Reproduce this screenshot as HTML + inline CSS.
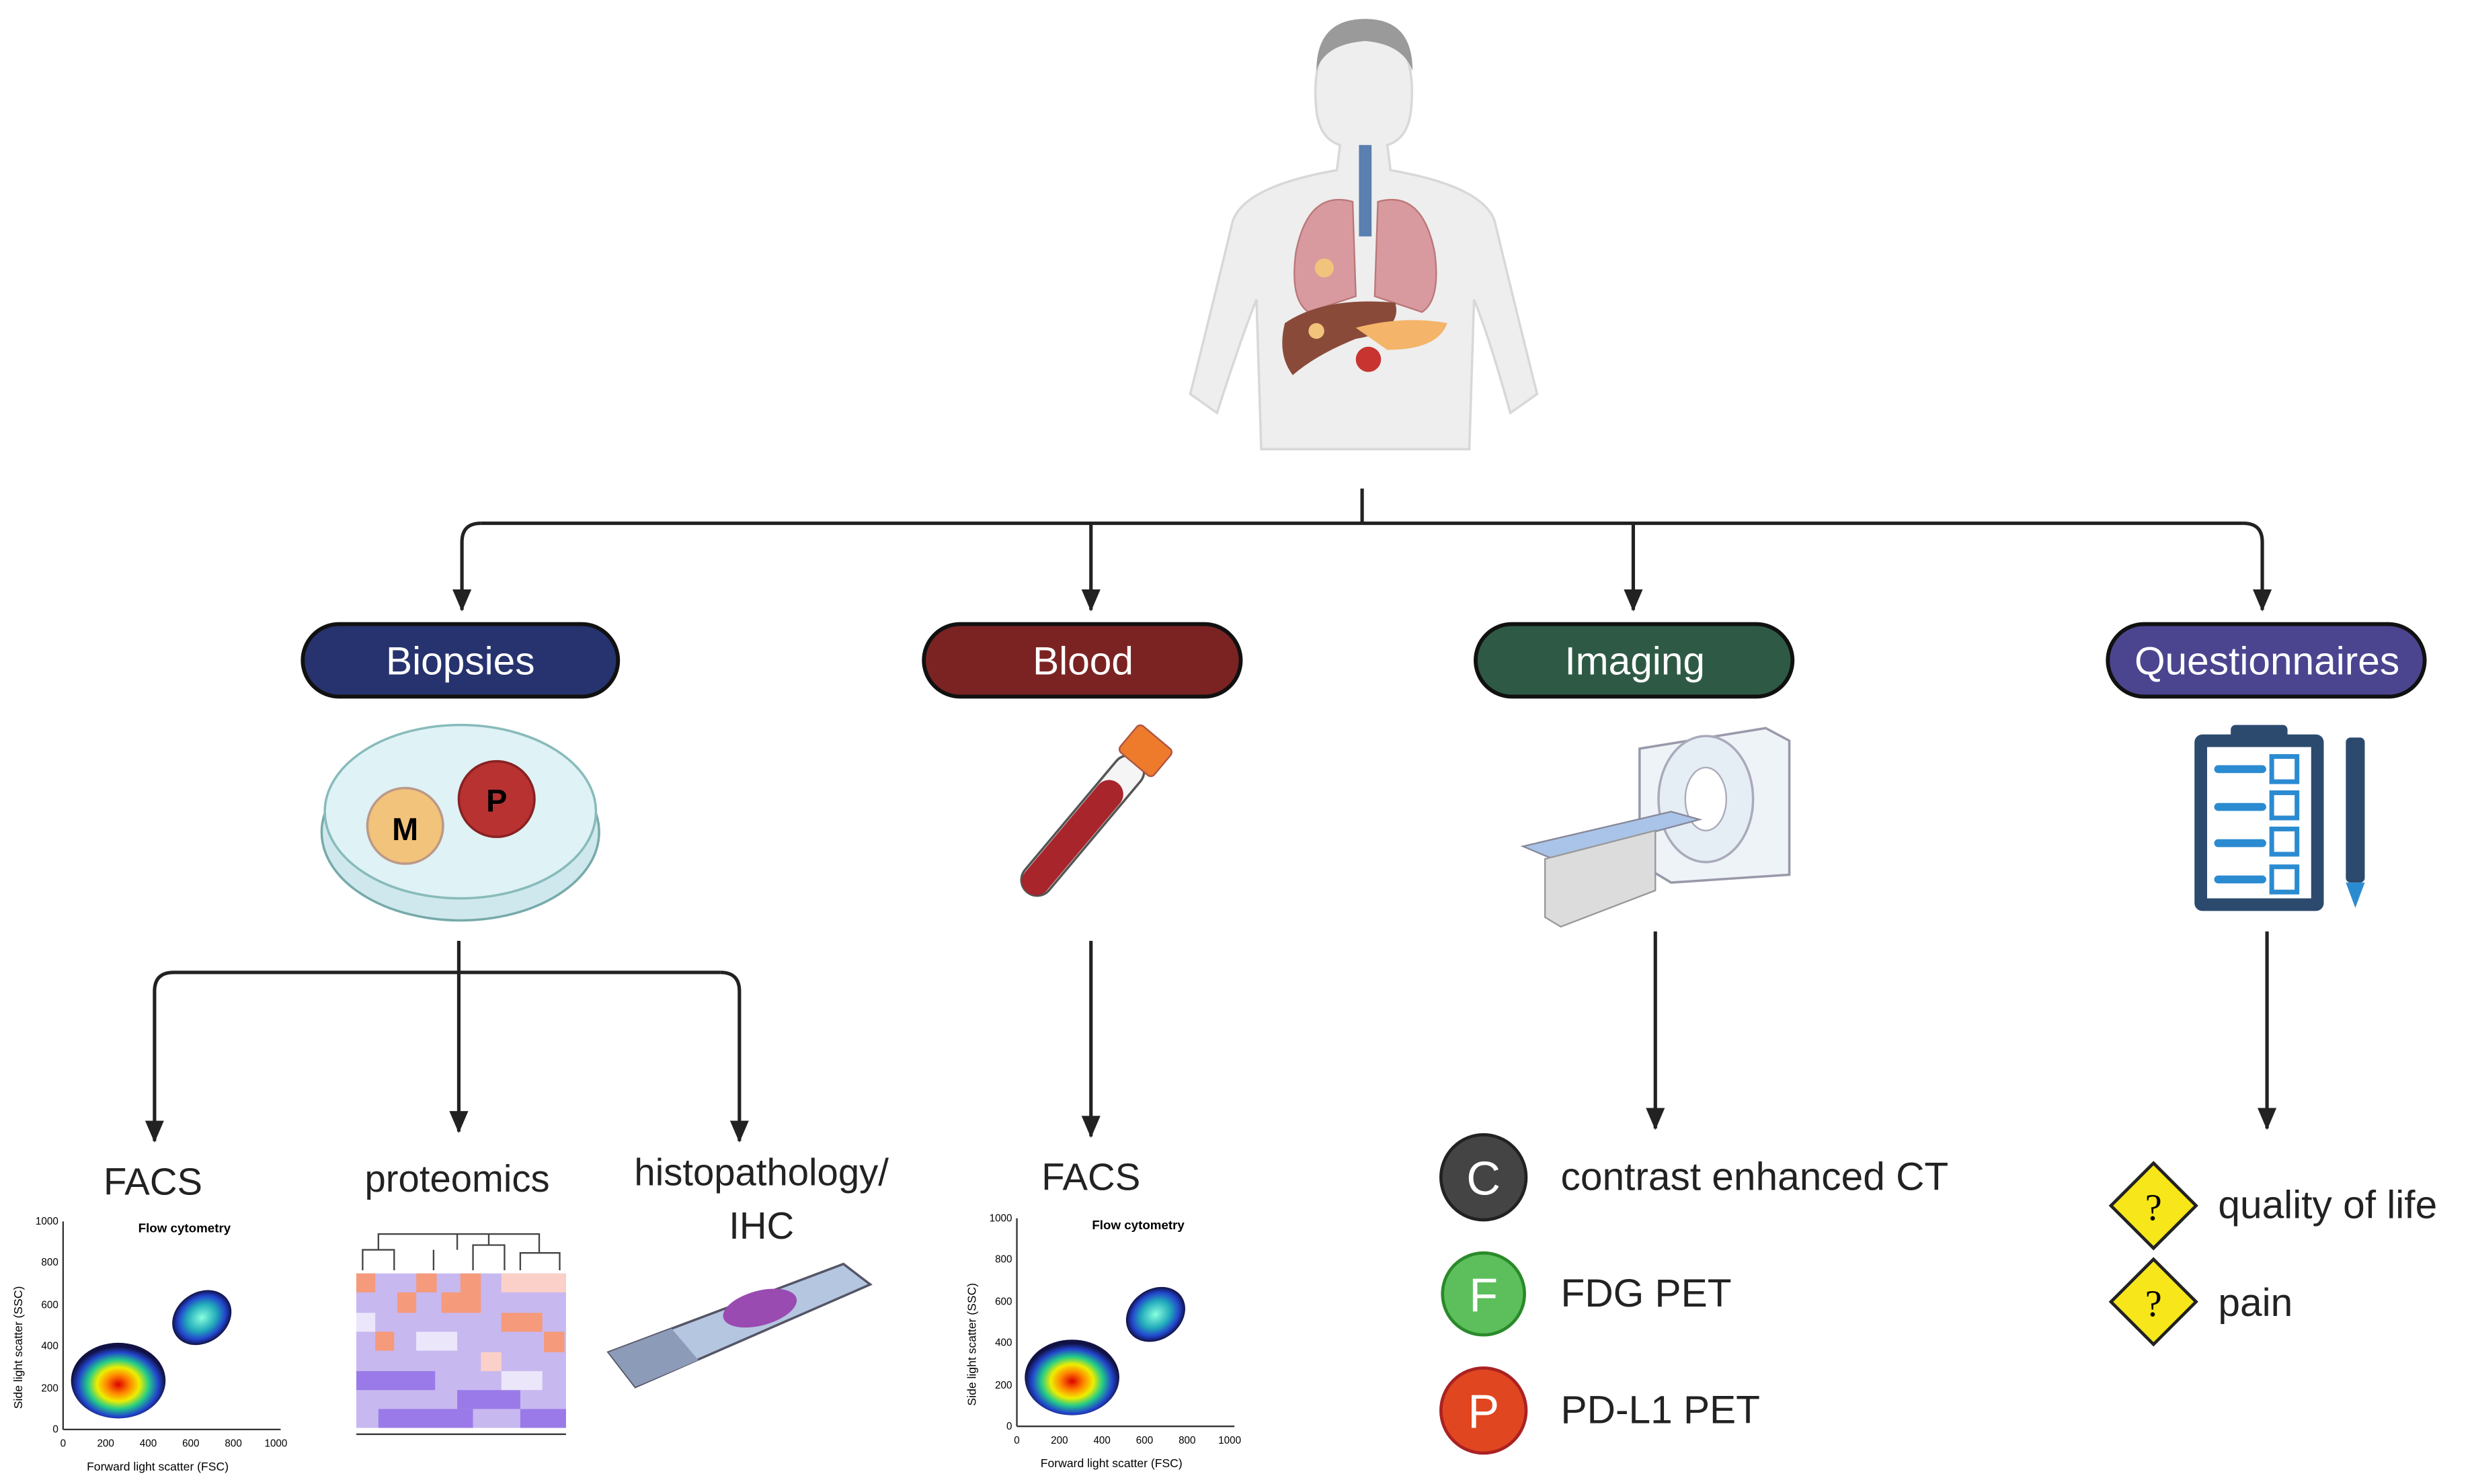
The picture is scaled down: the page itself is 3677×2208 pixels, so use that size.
<!DOCTYPE html>
<html><head><meta charset="utf-8"><style>
html,body{margin:0;padding:0;background:#fff;}
svg{display:block;}
text{font-family:"Liberation Sans",sans-serif;}
</style></head><body>
<svg width="3677" height="2208" viewBox="0 0 1568 941.6" xmlns="http://www.w3.org/2000/svg">
<defs>
<marker id="ah" markerWidth="14" markerHeight="12" refX="13" refY="6" orient="auto" markerUnits="userSpaceOnUse">
<path d="M0,0 L14,6 L0,12 Z" fill="#222"/></marker>
<radialGradient id="hot" cx="50%" cy="55%" r="50%">
<stop offset="0" stop-color="#d00"/><stop offset="0.25" stop-color="#f80"/><stop offset="0.45" stop-color="#ee0"/><stop offset="0.65" stop-color="#2c8"/><stop offset="0.85" stop-color="#24c"/><stop offset="1" stop-color="#114"/></radialGradient>
<radialGradient id="cool" cx="50%" cy="50%" r="50%">
<stop offset="0" stop-color="#8fd"/><stop offset="0.5" stop-color="#2ab"/><stop offset="0.8" stop-color="#24c"/><stop offset="1" stop-color="#114"/></radialGradient>
</defs>

<!-- human figure -->
<g>
<path d="M835,70 Q830,20 865,15 Q900,20 895,70 Q893,88 880,92 L882,108 Q940,118 948,140 Q960,190 975,250 L958,262 Q945,215 935,190 L932,285 L800,285 L797,190 Q787,215 772,262 L755,250 Q770,190 782,140 Q790,118 848,108 L850,92 Q837,88 835,70 Z" fill="#eeeeee" stroke="#d8d8d8" stroke-width="1.5"/>
<path d="M835,45 Q835,12 866,12 Q896,12 896,45 Q890,28 866,26 Q840,28 835,45 Z" fill="#9a9a9a"/>
<path d="M862,92 L870,92 L870,150 L862,150 Z" fill="#5a7fb0"/>
<path d="M858,128 Q830,120 822,160 Q818,190 830,198 L860,188 Z" fill="#d89a9f" stroke="#b77" stroke-width="1"/>
<path d="M874,128 Q902,120 910,160 Q914,190 902,198 L872,188 Z" fill="#d89a9f" stroke="#b77" stroke-width="1"/>
<circle cx="840" cy="170" r="6" fill="#f2c37a"/>
<path d="M815,205 Q840,188 885,192 Q890,210 860,215 Q835,225 820,238 Q810,225 815,205 Z" fill="#8a4a3a"/>
<path d="M860,208 Q890,200 918,205 Q912,222 880,222 Z" fill="#f4b469"/>
<circle cx="868" cy="228" r="8" fill="#c8342f"/>
<circle cx="835" cy="210" r="5" fill="#f2c37a"/>
</g>

<!-- connectors -->
<g stroke="#222" stroke-width="2.2" fill="none">
<line x1="864" y1="310" x2="864" y2="332"/>
<path d="M1423,332 Q1435,332 1435,344 L1435,387" marker-end="url(#ah)"/>
<path d="M305,332 L1423,332"/>
<path d="M305,332 Q293,332 293,344 L293,387" marker-end="url(#ah)"/>
<line x1="692" y1="332" x2="692" y2="387" marker-end="url(#ah)"/>
<line x1="1036" y1="332" x2="1036" y2="387" marker-end="url(#ah)"/>
<line x1="291" y1="597" x2="291" y2="718" marker-end="url(#ah)"/>
<path d="M110,617 L457,617"/>
<path d="M110,617 Q98,617 98,629 L98,724" marker-end="url(#ah)"/>
<path d="M457,617 Q469,617 469,629 L469,724" marker-end="url(#ah)"/>
<line x1="692" y1="597" x2="692" y2="721" marker-end="url(#ah)"/>
<line x1="1050" y1="591" x2="1050" y2="716" marker-end="url(#ah)"/>
<line x1="1438" y1="591" x2="1438" y2="716" marker-end="url(#ah)"/>
</g>

<!-- pills -->
<g stroke="#111" stroke-width="2.5">
<rect x="192" y="396" width="200" height="46" rx="23" fill="#27336e"/>
<rect x="586" y="396" width="201" height="46" rx="23" fill="#7b2323"/>
<rect x="936" y="396" width="201" height="46" rx="23" fill="#2e5a45"/>
<rect x="1337" y="396" width="201" height="46" rx="23" fill="#4b4590"/>
</g>
<g fill="#fff" font-size="25" text-anchor="middle">
<text x="292" y="428">Biopsies</text>
<text x="687" y="428">Blood</text>
<text x="1037" y="428">Imaging</text>
<text x="1438" y="428">Questionnaires</text>
</g>

<!-- petri dish -->
<ellipse cx="292" cy="528" rx="88" ry="56" fill="#cfe8ee" stroke="#7aa" stroke-width="1.5"/>
<ellipse cx="292" cy="515" rx="86" ry="55" fill="#dff2f5" stroke="#8bb" stroke-width="1.5"/>
<circle cx="257" cy="524" r="24" fill="#f2c37a" stroke="#b98" stroke-width="1.5"/>
<circle cx="315" cy="507" r="24" fill="#b83232" stroke="#822" stroke-width="1.5"/>
<text x="257" y="533" font-size="20" font-weight="bold" text-anchor="middle">M</text>
<text x="315" y="515" font-size="20" font-weight="bold" text-anchor="middle">P</text>

<!-- blood tube -->
<g transform="rotate(40 690 520)">
<rect x="680" y="470" width="20" height="110" rx="10" fill="#f5f5f5" stroke="#555" stroke-width="1.5"/>
<rect x="681" y="490" width="18" height="90" rx="9" fill="#a8252c"/>
<rect x="676" y="452" width="28" height="22" rx="3" fill="#ee7a2b" stroke="#a54" stroke-width="1"/>
</g>

<!-- CT scanner -->
<path d="M1040,475 L1120,462 L1135,470 L1135,555 L1060,560 L1040,548 Z" fill="#eef3f8" stroke="#99a" stroke-width="1.5"/>
<ellipse cx="1082" cy="507" rx="30" ry="40" fill="#e6eef5" stroke="#aab" stroke-width="1.5"/>
<ellipse cx="1082" cy="507" rx="13" ry="20" fill="#fff" stroke="#aab"/>
<path d="M966,537 L1060,515 L1078,520 L985,545 Z" fill="#a9c4e8" stroke="#889" stroke-width="1"/>
<path d="M980,545 L1050,527 L1050,565 L990,588 L980,582 Z" fill="#dcdcdc" stroke="#999" stroke-width="1"/>

<!-- clipboard -->
<rect x="1392" y="466" width="82" height="112" rx="5" fill="#2c4a6e"/>
<rect x="1400" y="474" width="66" height="96" fill="#fff"/>
<rect x="1415" y="460" width="36" height="12" rx="3" fill="#2c4a6e"/>
<g stroke="#2b8bd1" stroke-width="5" stroke-linecap="round">
<line x1="1407" y1="488" x2="1435" y2="488"/><line x1="1407" y1="512" x2="1435" y2="512"/>
<line x1="1407" y1="535" x2="1435" y2="535"/><line x1="1407" y1="558" x2="1435" y2="558"/></g>
<g fill="none" stroke="#2b8bd1" stroke-width="3">
<rect x="1441" y="480" width="16" height="16"/><rect x="1441" y="503" width="16" height="16"/>
<rect x="1441" y="526" width="16" height="16"/><rect x="1441" y="550" width="16" height="16"/></g>
<rect x="1488" y="468" width="12" height="92" rx="3" fill="#2c4a6e"/>
<path d="M1488,560 L1500,560 L1494,576 Z" fill="#2b8bd1"/>

<!-- labels -->
<g font-size="24" fill="#222" text-anchor="middle">
<text x="97" y="758">FACS</text>
<text x="290" y="756">proteomics</text>
<text x="483" y="752">histopathology/</text>
<text x="483" y="786">IHC</text>
<text x="692" y="755">FACS</text>
</g>

<!-- flow plots -->
<g id="fp">
<g stroke="#333" stroke-width="1" fill="none"><line x1="40" y1="775" x2="40" y2="907"/><line x1="40" y1="907" x2="178" y2="907"/></g>
<text x="117" y="782" font-size="8" font-weight="bold" text-anchor="middle">Flow cytometry</text>
<ellipse cx="75" cy="876" rx="30" ry="24" fill="url(#hot)"/>
<ellipse cx="128" cy="836" rx="20" ry="16" fill="url(#cool)" transform="rotate(-35 128 836)"/>
<text x="100" y="933" font-size="7.5" text-anchor="middle">Forward light scatter (FSC)</text>
<text x="14" y="855" font-size="7.5" text-anchor="middle" transform="rotate(-90 14 855)">Side light scatter (SSC)</text>
<g font-size="6.5" text-anchor="end"><text x="37" y="777">1000</text><text x="37" y="803">800</text><text x="37" y="830">600</text><text x="37" y="856">400</text><text x="37" y="883">200</text><text x="37" y="909">0</text></g>
<g font-size="6.5" text-anchor="middle"><text x="40" y="918">0</text><text x="67" y="918">200</text><text x="94" y="918">400</text><text x="121" y="918">600</text><text x="148" y="918">800</text><text x="175" y="918">1000</text></g>
</g>
<use href="#fp" transform="translate(605 -2)"/>

<!-- heatmap -->
<g>
<path d="M230,806 L230,793 L250,793 L250,806 M240,793 L240,783 L290,783 L290,793 M275,793 L275,806 M300,806 L300,790 L320,790 L320,806 M310,790 L310,783 M330,806 L330,795 L355,795 L355,806 M342,795 L342,783 L290,783" stroke="#444" fill="none" stroke-width="1"/>
<rect x="226" y="808" width="133" height="98" fill="#c8b8f0"/>
<g fill="#f59a7a">
<rect x="226" y="808" width="12" height="12"/><rect x="264" y="808" width="13" height="12"/><rect x="292" y="808" width="13" height="12"/><rect x="318" y="808" width="41" height="12" fill="#fbd0c8"/>
<rect x="252" y="820" width="12" height="13"/><rect x="280" y="820" width="25" height="13"/><rect x="318" y="833" width="26" height="12"/><rect x="345" y="845" width="13" height="13"/><rect x="238" y="845" width="12" height="12"/><rect x="305" y="858" width="13" height="12" fill="#fbd0c8"/>
</g>
<g fill="#9a7ae8"><rect x="226" y="870" width="50" height="12"/><rect x="290" y="882" width="40" height="12"/><rect x="240" y="894" width="60" height="12"/><rect x="330" y="894" width="29" height="12"/></g>
<g fill="#ece6fb"><rect x="264" y="845" width="26" height="12"/><rect x="318" y="870" width="26" height="12"/><rect x="226" y="833" width="12" height="12"/></g>
<line x1="226" y1="910" x2="359" y2="910" stroke="#333"/>
</g>

<!-- slide -->
<path d="M386,858 L535,802 L552,815 L403,880 Z" fill="#b5c6e0" stroke="#556" stroke-width="1.5"/>
<path d="M386,858 L426,843 L443,863 L403,880 Z" fill="#8b9bb8"/>
<ellipse cx="482" cy="830" rx="24" ry="11" fill="#9a4bb2" transform="rotate(-15 482 830)"/>

<!-- imaging list -->
<circle cx="941" cy="747" r="27" fill="#444" stroke="#222" stroke-width="2"/>
<circle cx="941" cy="821" r="26" fill="#5cbf5c" stroke="#2a8a2a" stroke-width="2"/>
<circle cx="941" cy="895" r="27" fill="#e0461f" stroke="#a22" stroke-width="2"/>
<g fill="#fff" font-size="30" text-anchor="middle"><text x="941" y="758">C</text><text x="941" y="832">F</text><text x="941" y="906">P</text></g>
<g font-size="25" fill="#222"><text x="990" y="755">contrast enhanced CT</text><text x="990" y="829">FDG PET</text><text x="990" y="903">PD-L1 PET</text>
<text x="1407" y="773">quality of life</text><text x="1407" y="835">pain</text></g>

<!-- diamonds -->
<g fill="#f6e61a" stroke="#222" stroke-width="2">
<path d="M1366,738 L1393,765 L1366,792 L1339,765 Z"/>
<path d="M1366,799 L1393,826 L1366,853 L1339,826 Z"/></g>
<g font-size="24" text-anchor="middle"><text x="1366" y="774" style="font-family:'Liberation Serif',serif">?</text><text x="1366" y="835" style="font-family:'Liberation Serif',serif">?</text></g>
</svg>
</body></html>
